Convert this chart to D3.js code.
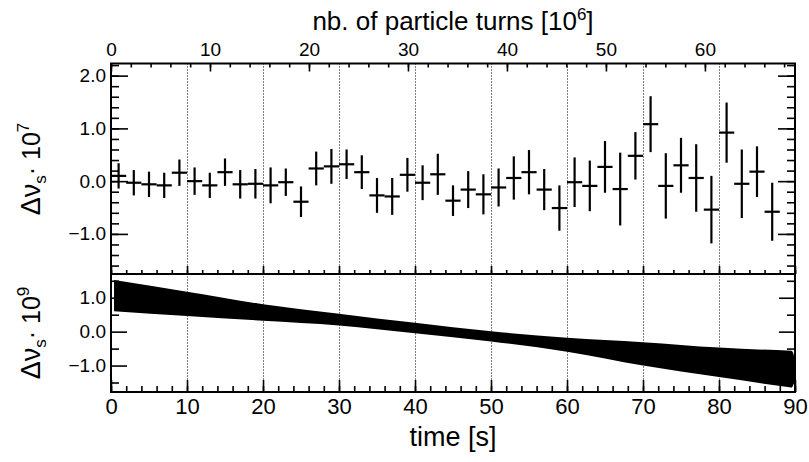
<!DOCTYPE html>
<html>
<head>
<meta charset="utf-8">
<script src="https://cdn.jsdelivr.net/npm/d3@7"></script>
<style>
  body { margin: 0; background: #fff; }
  svg { display: block; font-family: "Liberation Sans", Arial, Helvetica, sans-serif; }
  .tick line { stroke: #000; stroke-width: 1.6; }
  .tick text { fill: #000; }
</style>
</head>
<body>
<div id="place"></div>
<script>
// bin centres [s], measured tune shift [1e-7] and its error
const timeS = [1, 3, 5, 7, 9, 11, 13, 15, 17, 19, 21, 23, 25, 27, 29, 31, 33, 35, 37, 39, 41, 43,
               45, 47, 49, 51, 53, 55, 57, 59, 61, 63, 65, 67, 69, 71, 73, 75, 77, 79, 81, 83, 85, 87];
const tuneShift = [0.10, -0.03, -0.06, -0.08, 0.16, 0.00, -0.08, 0.17, -0.06, -0.05, -0.08, -0.02,
                   -0.39, 0.24, 0.28, 0.32, 0.17, -0.27, -0.29, 0.12, -0.03, 0.13,
                   -0.37, -0.16, -0.25, -0.12, 0.06, 0.17, -0.16, -0.51, -0.02, -0.09, 0.27,
                   -0.15, 0.48, 1.08, -0.09, 0.30, 0.06, -0.54, 0.92, -0.05, 0.18, -0.58];
const tuneErr = [0.24, 0.24, 0.24, 0.24, 0.25, 0.26, 0.24, 0.26, 0.27, 0.28, 0.34, 0.26,
                 0.29, 0.32, 0.33, 0.28, 0.32, 0.33, 0.35, 0.32, 0.33, 0.39,
                 0.29, 0.35, 0.38, 0.36, 0.41, 0.42, 0.39, 0.43, 0.47, 0.48, 0.49,
                 0.69, 0.45, 0.53, 0.62, 0.52, 0.64, 0.64, 0.57, 0.65, 0.48, 0.55];
const binHalf = 1;

// fitted drift band [1e-9]
const bandTime = [0.4, 10, 20, 30, 40, 50, 60, 70, 80, 89.5];
const bandHigh = [1.52, 1.18, 0.81, 0.53, 0.26, 0.01, -0.18, -0.31, -0.47, -0.56];
const bandLow  = [0.60, 0.46, 0.32, 0.18, -0.05, -0.29, -0.59, -1.00, -1.34, -1.65];

const timeTicks = [0, 10, 20, 30, 40, 50, 60, 70, 80, 90];
const gridTimes = [10, 20, 30, 40, 50, 60, 70, 80];
const turnTicks = [0, 10, 20, 30, 40, 50, 60];
const topYTicks = [-1, 0, 1, 2];
const botYTicks = [-1, 0, 1];

(function() {

	const W = 809, H = 462;
	const left = 111, right = 795, top = 63.5, mid = 274, bottom = 392;

	let svg = d3.select("#place").append("svg")
		.attr('width', W)
		.attr('height', H)

	const x = d3.scaleLinear().domain([0, 90]).range([left, right]);
	const xTurns = d3.scaleLinear().domain([0, 69.1]).range([left, right]);
	const yTop = d3.scaleLinear().domain([-1.76, 2.23]).range([mid, top]);
	const yBot = d3.scaleLinear().domain([-1.78, 1.7]).range([bottom, mid]);

	const fmt1 = d3.format(".1f");
	const minorT = d3.range(0, 90.01, 2);

	// dotted grid, both panels (snapped to the pixel so the dots stay dark)
	svg.append('g').selectAll('line')
		.data(gridTimes)
	  .enter().append('line')
		.attr('x1', d => Math.round(x(d)) + 0.5).attr('x2', d => Math.round(x(d)) + 0.5)
		.attr('y1', top).attr('y2', bottom)
		.style('stroke', '#000')
		.style('stroke-width', 1)
		.style('stroke-dasharray', '1,2')

	function ax(gen, tx, ty) {
		let g = svg.append('g').attr('transform', 'translate(' + tx + ',' + ty + ')').call(gen)
		g.select('.domain').remove()
		return g
	}

	// ---- top panel axes
	ax(d3.axisLeft(yTop).tickValues(topYTicks).tickSizeInner(-17).tickSizeOuter(0).tickPadding(5).tickFormat(fmt1), left, 0)
		.selectAll('text').style('font-size', '19px')
	ax(d3.axisLeft(yTop).tickValues(d3.range(-1.6, 2.21, 0.2)).tickSizeInner(-8).tickSizeOuter(0).tickFormat(''), left, 0)
	ax(d3.axisRight(yTop).tickValues(topYTicks).tickSizeInner(-17).tickSizeOuter(0).tickFormat(''), right, 0)
	ax(d3.axisRight(yTop).tickValues(d3.range(-1.6, 2.21, 0.2)).tickSizeInner(-8).tickSizeOuter(0).tickFormat(''), right, 0)
	ax(d3.axisBottom(x).tickValues(timeTicks).tickSizeInner(-8).tickSizeOuter(0).tickFormat(''), 0, mid)
	ax(d3.axisBottom(x).tickValues(minorT).tickSizeInner(-4).tickSizeOuter(0).tickFormat(''), 0, mid)
	ax(d3.axisTop(xTurns).tickValues(turnTicks).tickSizeInner(-8).tickSizeOuter(0).tickPadding(8), 0, top)
		.selectAll('text').style('font-size', '19px')
	ax(d3.axisTop(xTurns).tickValues(d3.range(0, 69, 2)).tickSizeInner(-4).tickSizeOuter(0).tickFormat(''), 0, top)

	// ---- bottom panel axes
	ax(d3.axisLeft(yBot).tickValues(botYTicks).tickSizeInner(-16).tickSizeOuter(0).tickPadding(5).tickFormat(fmt1), left, 0)
		.selectAll('text').style('font-size', '19px')
	ax(d3.axisLeft(yBot).tickValues([-1.5, -0.5, 0.5, 1.5]).tickSizeInner(-8).tickSizeOuter(0).tickFormat(''), left, 0)
	ax(d3.axisRight(yBot).tickValues(botYTicks).tickSizeInner(-16).tickSizeOuter(0).tickFormat(''), right, 0)
	ax(d3.axisRight(yBot).tickValues([-1.5, -0.5, 0.5, 1.5]).tickSizeInner(-8).tickSizeOuter(0).tickFormat(''), right, 0)
	ax(d3.axisBottom(x).tickValues(timeTicks).tickSizeInner(-12).tickSizeOuter(0).tickPadding(6), 0, bottom)
		.selectAll('text').style('font-size', '22px')
	ax(d3.axisBottom(x).tickValues(minorT).tickSizeInner(-6).tickSizeOuter(0).tickFormat(''), 0, bottom)

	// ---- measured points with error crosses
	let pts = svg.append('g').attr('class', 'points')
		.selectAll('g')
		.data(timeS.map((t, i) => ({ t: t, v: tuneShift[i], e: tuneErr[i] })))
	  .enter().append('g')
	pts.append('line')
		.attr('x1', d => x(d.t - binHalf)).attr('x2', d => x(d.t + binHalf))
		.attr('y1', d => yTop(d.v)).attr('y2', d => yTop(d.v))
	pts.append('line')
		.attr('x1', d => x(d.t)).attr('x2', d => x(d.t))
		.attr('y1', d => yTop(d.v - d.e)).attr('y2', d => yTop(d.v + d.e))
	pts.selectAll('line')
		.style('stroke', '#000')
		.style('stroke-width', 2.2)

	// ---- drift band
	const band = bandTime.map((t, i) => ({ t: t, hi: bandHigh[i], lo: bandLow[i] }))
	svg.append('path')
		.datum(band)
		.attr('d', d3.area().x(d => x(d.t)).y0(d => yBot(d.lo)).y1(d => yBot(d.hi)).curve(d3.curveMonotoneX))
		.style('fill', '#000')
	const last = band[band.length - 1]
	svg.append('ellipse')
		.attr('cx', x(last.t))
		.attr('cy', (yBot(last.hi) + yBot(last.lo)) / 2)
		.attr('rx', 4)
		.attr('ry', (yBot(last.lo) - yBot(last.hi)) / 2)
		.style('fill', '#000')

	// ---- frames
	svg.append('rect')
		.attr('x', left).attr('y', top).attr('width', right - left).attr('height', bottom - top)
		.style('fill', 'none').style('stroke', '#000').style('stroke-width', 2)
	svg.append('line')
		.attr('x1', left).attr('x2', right).attr('y1', mid).attr('y2', mid)
		.style('stroke', '#000').style('stroke-width', 2)

	// ---- titles
	let tt = svg.append('text')
		.attr('x', (left + right) / 2).attr('y', 30)
		.attr('text-anchor', 'middle')
		.style('font-size', '26px')
	tt.append('tspan').text('nb. of particle turns [10')
	tt.append('tspan').attr('dy', -10).style('font-size', '17px').text('6')
	tt.append('tspan').attr('dy', 10).text(']')

	svg.append('text')
		.attr('x', (left + right) / 2).attr('y', 446)
		.attr('text-anchor', 'middle')
		.style('font-size', '27px')
		.text('time [s]')

	function yTitle(cy, pow) {
		let t = svg.append('text')
			.attr('transform', 'translate(40,' + cy + ') rotate(-90)')
			.attr('text-anchor', 'middle')
			.style('font-size', '25px')
		t.append('tspan').style('font-size', '27px').text('Δν')
		t.append('tspan').attr('dy', 6).style('font-size', '17px').text('s')
		t.append('tspan').attr('dy', -6).text('· 10')
		t.append('tspan').attr('dy', -11).style('font-size', '17px').text(pow)
	}
	yTitle(169, '7')
	yTitle(333, '9')

})()
</script>
</body>
</html>
